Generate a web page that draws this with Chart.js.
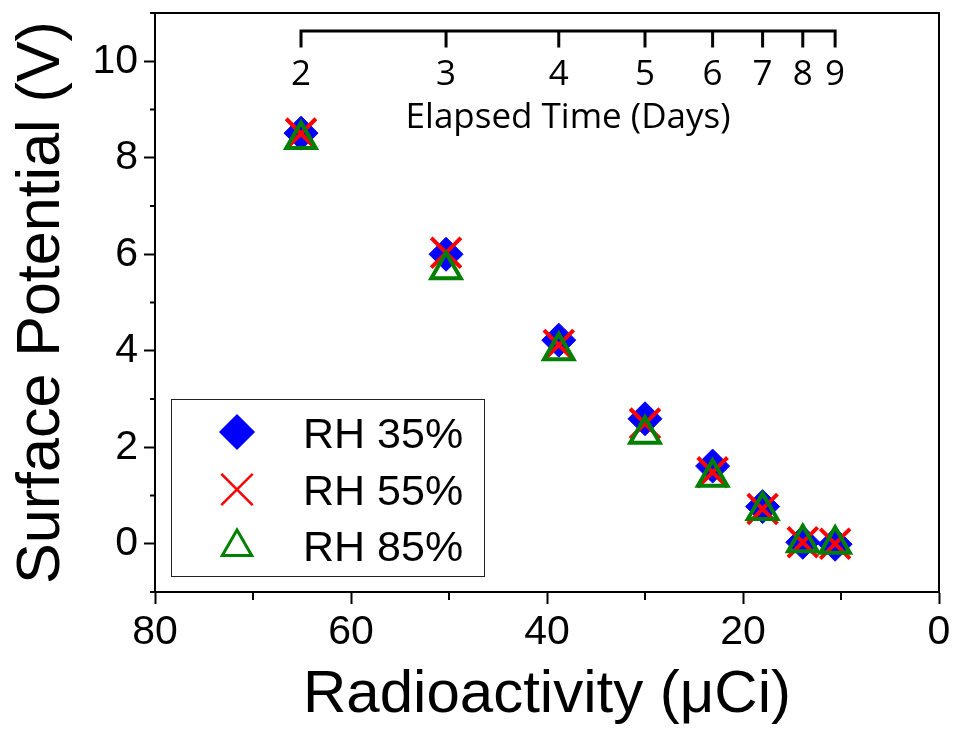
<!DOCTYPE html>
<html><head><meta charset="utf-8">
<script src="https://cdn.jsdelivr.net/npm/chart.js@4/dist/chart.umd.min.js"></script>
<style>html,body{margin:0;padding:0;background:#fff}canvas{display:block}</style>
</head><body>
<canvas id="c" width="956" height="731"></canvas>
<script>
// ---- data ----
const radioactivity = [65.1, 50.3, 38.8, 30.0, 23.1, 18.0, 13.9, 10.6];   // µCi
const elapsedDays   = [2, 3, 4, 5, 6, 7, 8, 9];                          // top axis labels
const rh35 = [8.51, 6.00, 4.22, 2.59, 1.61, 0.77, 0.03, -0.01];
const rh55 = [8.50, 6.03, 4.12, 2.49, 1.48, 0.72, 0.03, 0.00];
const rh85 = [8.38, 5.68, 4.00, 2.27, 1.38, 0.69, 0.02, -0.01];
const seriesNames = ['RH 35%', 'RH 55%', 'RH 85%'];
const xTickValues = [0, 20, 40, 60, 80];
const xMinorTickValues = [10, 30, 50, 70];
const yTickValues = [0, 2, 4, 6, 8, 10];
const yMinorTickValues = [-1, 1, 3, 5, 7, 9, 11];
const xTitle = 'Radioactivity (\u03bcCi)';
const yTitle = 'Surface Potential (V)';
const topAxisTitle = 'Elapsed Time (Days)';

const BLUE = '#0000ff', RED = '#ff0000', GREEN = '#008000';
const toPts = arr => arr.map((v, i) => ({x: radioactivity[i], y: v}));

Chart.defaults.font.family = '"Liberation Sans", Arial, sans-serif';
Chart.defaults.color = '#000';

function drawMarker(ctx, style, x, y, r, color, lw) {
  ctx.save();
  ctx.strokeStyle = color; ctx.fillStyle = color; ctx.lineWidth = lw;
  ctx.beginPath();
  if (style === 'rectRot') {
    ctx.moveTo(x - r, y); ctx.lineTo(x, y - r); ctx.lineTo(x + r, y); ctx.lineTo(x, y + r); ctx.closePath();
    ctx.fill(); ctx.stroke();
  } else if (style === 'crossRot') {
    const o = r * Math.SQRT1_2;
    ctx.moveTo(x - o, y - o); ctx.lineTo(x + o, y + o);
    ctx.moveTo(x + o, y - o); ctx.lineTo(x - o, y + o);
    ctx.stroke();
  } else {
    const s = Math.sin(2 * Math.PI / 3) * r;
    ctx.moveTo(x, y - r); ctx.lineTo(x + s, y + r / 2); ctx.lineTo(x - s, y + r / 2); ctx.closePath();
    ctx.stroke();
  }
  ctx.restore();
}

const extras = {
  id: 'extras',
  afterDraw(chart) {
    const {ctx, chartArea: a, scales: {x, y}} = chart;
    ctx.save();
    ctx.strokeStyle = '#000';
    ctx.lineWidth = 2;
    // top and right frame
    ctx.beginPath();
    ctx.moveTo(a.left, a.top); ctx.lineTo(a.right, a.top); ctx.lineTo(a.right, a.bottom);
    ctx.stroke();
    // minor ticks
    ctx.beginPath();
    yMinorTickValues.forEach(v => { const py = y.getPixelForValue(v); ctx.moveTo(a.left - 5, py); ctx.lineTo(a.left, py); });
    xMinorTickValues.forEach(v => { const px = x.getPixelForValue(v); ctx.moveTo(px, a.bottom); ctx.lineTo(px, a.bottom + 8); });
    ctx.stroke();
    // inner top axis (elapsed time)
    const xs = radioactivity.map(v => x.getPixelForValue(v));
    const axisY = a.top + 18;
    ctx.lineWidth = 3;
    ctx.lineCap = 'square';
    ctx.beginPath();
    ctx.moveTo(xs[0], axisY); ctx.lineTo(xs[xs.length - 1], axisY);
    xs.forEach(px => { ctx.moveTo(px, axisY); ctx.lineTo(px, axisY + 15); });
    ctx.stroke();
    ctx.fillStyle = '#000';
    ctx.font = '35px "Open Sans"';
    ctx.textAlign = 'center'; ctx.textBaseline = 'alphabetic';
    elapsedDays.forEach((d, i) => ctx.fillText(String(d), xs[i], a.top + 72));
    ctx.fillText(topAxisTitle, (xs[0] + xs[xs.length - 1]) / 2, a.top + 115);
    // legend
    const lx = a.left + 16, ly = a.bottom - 193;
    ctx.lineWidth = 1; ctx.strokeStyle = '#222';
    ctx.strokeRect(Math.round(lx) + 0.5, Math.round(ly) + 0.5, 313, 177);
    const styles = [['rectRot', BLUE, 17, 1.5], ['crossRot', RED, 21, 2.5], ['triangle', GREEN, 17, 3]];
    const markerY = [ly + 33, ly + 90.5, ly + 148];
    const baseY = [ly + 49, ly + 105.5, ly + 162];
    ctx.font = '43px "Liberation Sans", Arial, sans-serif';
    ctx.textAlign = 'left';
    styles.forEach((s, i) => {
      drawMarker(ctx, s[0], lx + 66, markerY[i], s[2], s[1], s[3]);
      ctx.fillStyle = '#000';
      ctx.fillText(seriesNames[i], lx + 132, baseY[i]);
    });
    ctx.restore();
  }
};

new Chart(document.getElementById('c'), {
  type: 'scatter',
  data: {
    datasets: [
      {label: seriesNames[0], data: toPts(rh35), pointStyle: 'rectRot', pointRadius: 17, backgroundColor: BLUE, borderColor: BLUE, borderWidth: 1, order: 3},
      {label: seriesNames[1], data: toPts(rh55), pointStyle: 'crossRot', pointRadius: 21, backgroundColor: RED, borderColor: RED, borderWidth: 4, order: 2},
      {label: seriesNames[2], data: toPts(rh85), pointStyle: 'triangle', pointRadius: 17, backgroundColor: 'rgba(0,0,0,0)', borderColor: GREEN, borderWidth: 4, order: 1}
    ]
  },
  options: {
    responsive: false,
    animation: false,
    events: [],
    layout: {autoPadding: false, padding: {top: 13, right: 17, left: 0, bottom: 0}},
    plugins: {legend: {display: false}, tooltip: {enabled: false}},
    scales: {
      x: {
        type: 'linear', reverse: true, min: 0, max: 80, position: 'bottom',
        afterBuildTicks: s => { s.ticks = xTickValues.map(v => ({value: v})); },
        afterFit: s => { s.height = 139; s.paddingLeft = 0; s.paddingRight = 0; },
        grid: {drawOnChartArea: false, drawTicks: true, tickLength: 12, tickWidth: 2, tickColor: '#000'},
        border: {display: true, color: '#000', width: 2},
        ticks: {font: {size: 41}, color: '#000', padding: 4, maxRotation: 0, autoSkip: false, callback: v => String(v)},
        title: {display: true, text: xTitle, font: {size: 60}, color: '#000', padding: {top: 0, bottom: 0}}
      },
      y: {
        type: 'linear', min: -1, max: 11, position: 'left',
        afterBuildTicks: s => { s.ticks = yTickValues.map(v => ({value: v})); },
        afterFit: s => { s.width = 155; s.paddingTop = 0; s.paddingBottom = 0; },
        grid: {drawOnChartArea: false, drawTicks: true, tickLength: 11, tickWidth: 2, tickColor: '#000'},
        border: {display: true, color: '#000', width: 2},
        ticks: {font: {size: 41}, color: '#000', padding: 6, autoSkip: false, callback: v => String(v)},
        title: {display: true, text: yTitle, font: {size: 61}, color: '#000', padding: {top: 6, bottom: 0}}
      }
    }
  },
  plugins: [extras]
});
</script>
</body></html>
